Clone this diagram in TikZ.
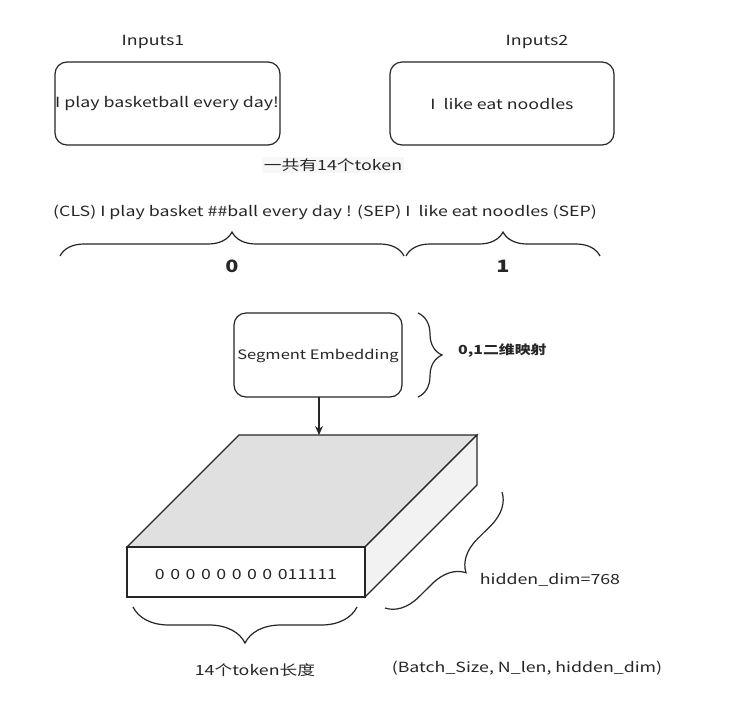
\documentclass[tikz,border=0pt]{standalone}
\usepackage{fontspec}
\setmainfont{Noto Sans CJK SC}[FakeStretch=1.27]
\usetikzlibrary{decorations.pathreplacing,arrows.meta}
\begin{document}
\begin{tikzpicture}[x=1pt,y=-1pt,
  every node/.style={font=\fontsize{14}{16}\selectfont, text=black!85, inner sep=0pt},
  rbox/.style={draw=black!85, line width=1.2pt, rounded corners=12pt, fill=white},
  bracestyle/.style={draw=black!85, line width=1.2pt, decorate},
  boldlbl/.style={font=\fontsize{17}{19}\selectfont\bfseries}]
\path[fill=white, use as bounding box] (0,0) rectangle (741,705);

% inputs
\node (in1lbl) at (153,42) {Inputs1};
\node (in2lbl) at (537,42) {Inputs2};
\draw[rbox] (55,62) rectangle (280,145);
\node (in1) at (167,104) {I play basketball every day!};
\draw[rbox] (390,62) rectangle (614,145);
\node (in2) at (502,104) {I\ \ like eat noodles};

\node[fill=black!3, inner sep=2pt] (total) at (333,165) {一共有14个token};
\node (tokens) at (325,212) {(CLS) I play basket \#\#ball every day ! (SEP) I\ \ like eat noodles (SEP)};

\coordinate (b1a) at (60,256);
\coordinate (b1b) at (404,256);
\coordinate (b2a) at (406,256);
\coordinate (b2b) at (600,256);
\draw[bracestyle, decoration={brace, amplitude=24pt}] (b1a) -- (b1b);
\draw[bracestyle, decoration={brace, amplitude=24pt}] (b2a) -- (b2b);
\node[boldlbl] (zero) at (232,266) {0};
\node[boldlbl] (one) at (503,266) {1};

% segment embedding
\draw[rbox] (234,313) rectangle (402,397);
\node[font=\fontsize{13}{15}\selectfont] (seg) at (318,356) {Segment Embedding};
\coordinate (segbot) at (319,397);
\coordinate (sb1) at (418,313);
\coordinate (sb2) at (418,397);
\draw[bracestyle, decoration={brace, amplitude=24pt}] (sb1) -- (sb2);
\node[font=\fontsize{12.5}{15}\selectfont\bfseries, anchor=west] (map) at (458,351) {0,1二维映射};

% 3D block
\coordinate (fl) at (127,547);
\coordinate (fr) at (365,547);
\coordinate (frb) at (365,597);
\coordinate (flb) at (127,597);
\coordinate (bl) at (239,435);
\coordinate (br) at (477,435);
\coordinate (brb) at (477,485);
\draw[line width=1.2pt, draw=black!85, fill=black!12] (fl) -- (bl) -- (br) -- (fr) -- cycle;
\draw[line width=1.2pt, draw=black!85, fill=black!5] (fr) -- (br) -- (brb) -- (frb) -- cycle;
\draw[line width=1.2pt, draw=black!85, fill=white] (fl) rectangle (frb);
\node (bits) at (246,574) {0\hspace{5.5pt}0\hspace{5.5pt}0\hspace{5.5pt}0\hspace{5.5pt}0\hspace{5.5pt}0\hspace{5.5pt}0\hspace{5.5pt}0\hspace{5.5pt}011111};
\coordinate (top) at (319,435);
\draw[line width=1.2pt, draw=black!85, -{Stealth[length=9pt,width=8pt]}] (segbot) -- (top);

\coordinate (lb1) at (357,607);
\coordinate (lb2) at (133,607);
\draw[bracestyle, decoration={brace, amplitude=36pt}] (lb1) -- (lb2);
\node (len) at (255,670) {14个token长度};

\coordinate (db1) at (502,492);
\coordinate (db2) at (385,608);
\draw[bracestyle, decoration={brace, amplitude=32pt}] (db1) -- (db2);
\node (hd) at (550,580) {hidden\_dim=768};
\node (shape) at (527,668) {(Batch\_Size, N\_len, hidden\_dim)};
\end{tikzpicture}
\end{document}
